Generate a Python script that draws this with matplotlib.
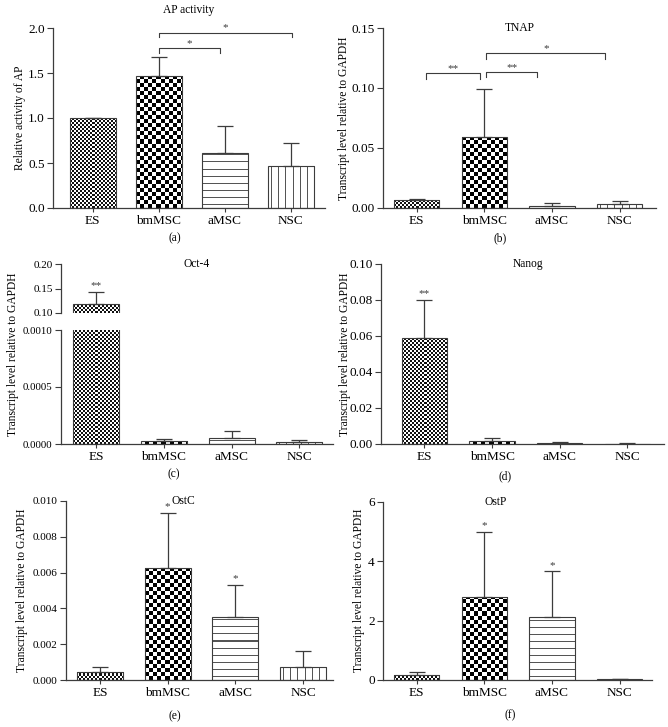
import numpy as np
import matplotlib
matplotlib.use('Agg')
import matplotlib.pyplot as plt
from matplotlib.colors import ListedColormap
from matplotlib.ticker import FormatStrFormatter

plt.rcParams['font.family'] = ['Liberation Serif', 'DejaVu Serif']

# data
groups = ['ES', 'bmMSC', 'aMSC', 'NSC']

ap_mean = [1.0, 1.467, 0.615, 0.467]
ap_err = [0.0, 0.215, 0.295, 0.253]

tnap_mean = [0.0063, 0.0589, 0.0019, 0.0033]
tnap_err = [0.0012, 0.0405, 0.0020, 0.0027]

oct4_mean = [0.118, 0.000023, 0.000052, 0.000017]
oct4_err = [0.025, 0.000021, 0.000058, 0.000018]

nanog_mean = [0.0587, 0.0015, 0.0006, 0.0002]
nanog_err = [0.0215, 0.0017, 0.0004, 0.0001]

ostc_mean = [0.00045, 0.00626, 0.00353, 0.00074]
ostc_err = [0.00028, 0.00307, 0.00180, 0.00086]

ostp_mean = [0.17, 2.81, 2.12, 0.02]
ostp_err = [0.09, 2.18, 1.55, 0.025]

W, H = 668, 727
fig = plt.figure(figsize=(W / 100, H / 100), dpi=100)

EDGE = '#3c3c3c'
TICK_FS = 9.5
LAB_FS = 8.3
# texture per group: (kind, size, colour)
textures = [('checker', 2, '#111111'), ('checker', 4, '#000000'),
            ('hlines', 7, '#555555'), ('vlines', 7, '#555555')]


def px_rect(l, r, t, b):
    return [l / W, 1 - b / H, (r - l) / W, (b - t) / H]


def style(ax, xlim, ylim, yticks, fmt, bottom=True, yfs=TICK_FS):
    ax.set_xlim(xlim)
    ax.set_ylim(ylim)
    for s in ['top', 'right']:
        ax.spines[s].set_visible(False)
    ax.spines['left'].set_color(EDGE)
    ax.spines['left'].set_linewidth(0.9)
    ax.set_yticks(yticks)
    ax.yaxis.set_major_formatter(FormatStrFormatter(fmt))
    ax.tick_params(axis='y', direction='out', length=4, width=0.8, color=EDGE,
                   labelsize=yfs, pad=2)
    if bottom:
        ax.spines['bottom'].set_color(EDGE)
        ax.spines['bottom'].set_linewidth(0.9)
        ax.set_xticks(range(len(groups)))
        ax.set_xticklabels(groups)
        ax.tick_params(axis='x', direction='out', length=3, width=0.8, color=EDGE,
                       labelsize=TICK_FS, pad=2)
    else:
        ax.spines['bottom'].set_visible(False)
        ax.set_xticks([])


def texture(ax, bar, kind, size, color):
    x0 = bar.get_x()
    x1 = x0 + bar.get_width()
    y0, y1 = ax.get_ylim()
    p0 = ax.transData.transform((x0, y0))
    p1 = ax.transData.transform((x1, y1))
    nx = max(1, int(round(abs(p1[0] - p0[0]))))
    ny = max(1, int(round(abs(p1[1] - p0[1]))))
    jj, ii = np.meshgrid(np.arange(nx), np.arange(ny)[::-1])
    if kind == 'checker':
        img = ((ii // size) + (jj // size)) % 2
    elif kind == 'hlines':
        img = ((ii % size) == 3).astype(int)
    else:
        img = ((jj % size) == 3).astype(int)
    im = ax.imshow(img, cmap=ListedColormap(['white', color]), vmin=0, vmax=1,
                   extent=(x0, x1, y0, y1), aspect='auto', interpolation='nearest',
                   zorder=2.1)
    im.set_clip_path(bar)


def draw_bars(ax, means, errs, width, xlim, ylim, show_err=True):
    x = np.arange(len(groups))
    bars = ax.bar(x, means, width, color='white', edgecolor='none', zorder=2)
    for b, (kind, size, col) in zip(bars, textures):
        texture(ax, b, kind, size, col)
    ax.bar(x, means, width, fill=False, edgecolor=EDGE, linewidth=0.8, zorder=2.5)
    if show_err:
        ax.errorbar(x, means, yerr=[np.zeros(len(errs)), errs], fmt='none',
                    ecolor=EDGE, elinewidth=0.9, capsize=5.5, capthick=0.9, zorder=3)
    ax.set_xlim(xlim)
    ax.set_ylim(ylim)
    return x


def bracket(ax, x0, x1, y, drop, label):
    ax.plot([x0, x0, x1, x1], [y - drop, y, y, y - drop], color=EDGE, lw=0.8,
            zorder=3, clip_on=False)
    ax.text((x0 + x1) / 2, y, label, ha='center', va='bottom', fontsize=8,
            color=EDGE)


def stars(ax, xs, means, errs, label):
    for xi in xs:
        ax.annotate(label, (xi, means[xi] + errs[xi]), xytext=(0, 1),
                    textcoords='offset points', ha='center', va='bottom',
                    fontsize=8, color=EDGE)


def ylabel(text, x, yc):
    fig.text(x / W, 1 - yc / H, text, rotation=90, ha='center', va='center',
             fontsize=LAB_FS)


def panel_tag(text, x, y):
    fig.text(x / W, 1 - y / H, text, ha='center', va='center', fontsize=LAB_FS)


# (a) AP activity
ax = fig.add_axes(px_rect(53, 325, 28, 208))
xl, yl = (-0.60, 3.52), (0, 2.0)
style(ax, xl, yl, [0, 0.5, 1.0, 1.5, 2.0], '%.1f')
draw_bars(ax, ap_mean, ap_err, 0.70, xl, yl)
bracket(ax, 1.0, 1.93, 1.775, 0.055, '*')
bracket(ax, 1.0, 3.02, 1.95, 0.05, '*')
ax.set_title('AP activity', fontsize=LAB_FS, pad=11)
ylabel('Relative activity of AP', 20, 118)
panel_tag('(a)', 175, 238)

# (b) TNAP
ax = fig.add_axes(px_rect(383, 656, 28, 208))
xl, yl = (-0.50, 3.54), (0, 0.15)
style(ax, xl, yl, [0, 0.05, 0.10, 0.15], '%.2f')
draw_bars(ax, tnap_mean, tnap_err, 0.67, xl, yl)
bracket(ax, 0.13, 0.94, 0.1125, 0.005, '**')
bracket(ax, 1.03, 1.78, 0.1130, 0.004, '**')
bracket(ax, 1.03, 2.79, 0.1294, 0.005, '*')
ax.text(0.5, 1.0, 'TNAP', transform=ax.transAxes, ha='center', va='center',
        fontsize=LAB_FS)
ylabel('Transcript level relative to GAPDH', 344, 118)
panel_tag('(b)', 500, 238)

# (c) Oct-4, broken axis
xl = (-0.52, 3.50)
ax_top = fig.add_axes(px_rect(61, 333, 264, 313))
style(ax_top, xl, (0.10, 0.20), [0.10, 0.15, 0.20], '%.2f', bottom=False, yfs=8)
draw_bars(ax_top, oct4_mean, oct4_err, 0.68, xl, (0.10, 0.20))
stars(ax_top, [0], oct4_mean, oct4_err, '**')
ax_bot = fig.add_axes(px_rect(61, 333, 330, 444))
style(ax_bot, xl, (0, 0.001), [0, 0.0005, 0.0010], '%.4f', yfs=7.8)
draw_bars(ax_bot, oct4_mean, oct4_err, 0.68, xl, (0, 0.001))
ax_top.text(0.5, 1.0, 'Oct-4', transform=ax_top.transAxes, ha='center',
            va='center', fontsize=LAB_FS)
ylabel('Transcript level relative to GAPDH', 13, 354)
panel_tag('(c)', 174, 474)

# (d) Nanog
ax = fig.add_axes(px_rect(381, 664, 264, 444))
xl, yl = (-0.64, 3.54), (0, 0.10)
style(ax, xl, yl, [0, 0.02, 0.04, 0.06, 0.08, 0.10], '%.2f')
draw_bars(ax, nanog_mean, nanog_err, 0.67, xl, yl)
stars(ax, [0], nanog_mean, nanog_err, '**')
ax.text(0.52, 1.0, 'Nanog', transform=ax.transAxes, ha='center', va='center',
        fontsize=LAB_FS)
ylabel('Transcript level relative to GAPDH', 345, 354)
panel_tag('(d)', 505, 476)

# (e) OstC
ax = fig.add_axes(px_rect(66, 333, 501, 680))
xl, yl = (-0.50, 3.44), (0, 0.010)
style(ax, xl, yl, [0, 0.002, 0.004, 0.006, 0.008, 0.010], '%.3f', yfs=8)
draw_bars(ax, ostc_mean, ostc_err, 0.68, xl, yl)
stars(ax, [1, 2], ostc_mean, ostc_err, '*')
ax.text(0.44, 1.0, 'OstC', transform=ax.transAxes, ha='center', va='center',
        fontsize=LAB_FS)
ylabel('Transcript level relative to GAPDH', 22, 590)
panel_tag('(e)', 175, 716)

# (f) OstP
ax = fig.add_axes(px_rect(383, 652, 502, 680))
xl, yl = (-0.50, 3.48), (0, 6)
style(ax, xl, yl, [0, 2, 4, 6], '%d')
draw_bars(ax, ostp_mean, ostp_err, 0.67, xl, yl)
stars(ax, [1, 2], ostp_mean, ostp_err, '*')
ax.text(0.42, 1.0, 'OstP', transform=ax.transAxes, ha='center', va='center',
        fontsize=LAB_FS)
ylabel('Transcript level relative to GAPDH', 359, 590)
panel_tag('(f)', 510, 715)

fig.savefig('out.png', dpi=100)
